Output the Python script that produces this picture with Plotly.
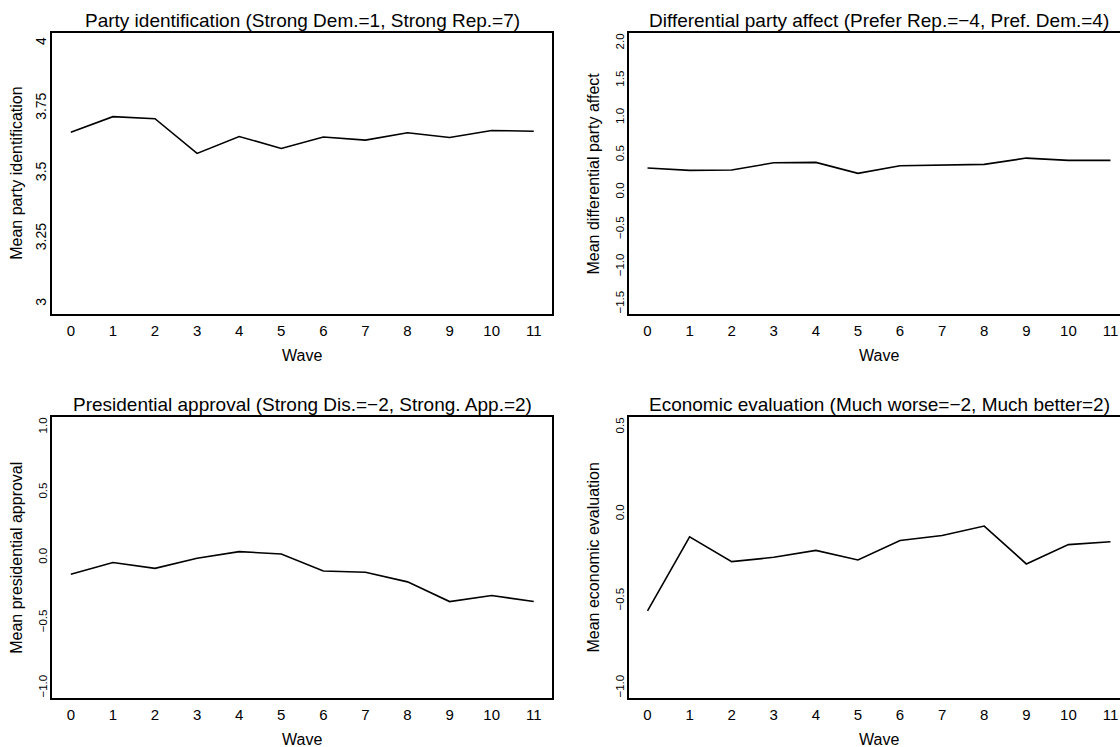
import plotly.graph_objects as go

# Survey waves and panel means
waves = list(range(12))
party_id = [3.658, 3.718, 3.710, 3.577, 3.642, 3.596, 3.640, 3.628, 3.656, 3.638, 3.665, 3.662]
party_affect = [0.323, 0.292, 0.297, 0.394, 0.399, 0.252, 0.354, 0.363, 0.372, 0.457, 0.426, 0.426]
approval = [-0.129, -0.039, -0.083, -0.006, 0.045, 0.027, -0.103, -0.113, -0.187, -0.338, -0.292, -0.338]
econ_eval = [-0.557, -0.131, -0.274, -0.249, -0.209, -0.264, -0.152, -0.123, -0.069, -0.287, -0.176, -0.159]

titles = [
    "Party identification (Strong Dem.=1, Strong Rep.=7)",
    "Differential party affect (Prefer Rep.=\u22124, Pref. Dem.=4)",
    "Presidential approval (Strong Dis.=\u22122, Strong. App.=2)",
    "Economic evaluation (Much worse=\u22122, Much better=2)",
]
ylabels = [
    "Mean party identification",
    "Mean differential party affect",
    "Mean presidential approval",
    "Mean economic evaluation",
]
yticks = [
    [3, 3.25, 3.5, 3.75, 4],
    [-1.5, -1.0, -0.5, 0.0, 0.5, 1.0, 1.5, 2.0],
    [-1.0, -0.5, 0.0, 0.5, 1.0],
    [-1.0, -0.5, 0.0, 0.5],
]
ytick_text = [
    ["3", "3.25", "3.5", "3.75", "4"],
    ["\u22121.5", "\u22121.0", "\u22120.5", "0.0", "0.5", "1.0", "1.5", "2.0"],
    ["\u22121.0", "\u22120.5", "0.0", "0.5", "1.0"],
    ["\u22121.0", "\u22120.5", "0.0", "0.5"],
]
ylims = [(3, 4), (-1.5, 2.0), (-1.0, 1.0), (-1.0, 0.5)]
series = [party_id, party_affect, approval, econ_eval]

W, H = 1120, 747
FONT = "Liberation Sans, Arial, Helvetica, sans-serif"

# panel boxes in pixels: (left, right, top, bottom)
boxes = [
    (52.3, 552.3, 32.7, 314.3),
    (629.0, 1129.0, 32.7, 314.3),
    (52.3, 552.3, 416.7, 698.3),
    (629.0, 1129.0, 416.7, 698.3),
]

fig = go.Figure()
layout = dict(
    width=W, height=H,
    margin=dict(l=0, r=0, t=0, b=0),
    paper_bgcolor="white", plot_bgcolor="white",
    showlegend=False,
    font=dict(family=FONT, color="black"),
)
annotations = []

xlo, xhi = -0.44, 11.44
for i, (vals, box) in enumerate(zip(series, boxes)):
    n = "" if i == 0 else str(i + 1)
    left, right, top, bottom = box
    vis_right = min(right, W)
    px_per_unit = (right - left) / (xhi - xlo)
    x_end = xlo + (vis_right - left) / px_per_unit
    lo, hi = ylims[i]
    pad = 0.04 * (hi - lo)
    cut = right > W

    fig.add_trace(go.Scatter(
        x=waves, y=vals, mode="lines",
        line=dict(color="black", width=1.6),
        xaxis="x" + n, yaxis="y" + n, hoverinfo="skip",
    ))

    layout["xaxis" + n] = dict(
        domain=[left / W, vis_right / W], range=[xlo, x_end],
        anchor="y" + n, tickvals=waves, ticktext=[str(w) for w in waves],
        ticks="", showgrid=False, zeroline=False,
        showline=True, linecolor="black", linewidth=1.5, mirror=True,
        tickfont=dict(size=15, family=FONT), ticklabelstandoff=2,
        fixedrange=True,
    )
    layout["yaxis" + n] = dict(
        domain=[1 - bottom / H, 1 - top / H], range=[lo - pad, hi + pad],
        anchor="x" + n, tickvals=yticks[i], ticktext=ytick_text[i],
        tickangle=-90, ticks="", showgrid=False, zeroline=False,
        showline=True, linecolor="black", linewidth=1.5,
        mirror=not cut,
        tickfont=dict(size=14 if i == 0 else 11.5, family=FONT),
        ticklabelstandoff=-1, fixedrange=True,
    )

    cx = (left + right) / 2
    annotations.append(dict(
        text=titles[i], x=cx / W, y=1 - (top - 12.5) / H,
        xref="paper", yref="paper", xanchor="center", yanchor="middle",
        showarrow=False, font=dict(size=19, family=FONT),
    ))
    annotations.append(dict(
        text="Wave", x=cx / W, y=1 - (bottom + 41) / H,
        xref="paper", yref="paper", xanchor="center", yanchor="middle",
        showarrow=False, font=dict(size=16, family=FONT),
    ))
    annotations.append(dict(
        text=ylabels[i], x=(left - 36) / W, y=1 - (top + bottom) / 2 / H,
        xref="paper", yref="paper", xanchor="center", yanchor="middle",
        textangle=-90, showarrow=False, font=dict(size=16, family=FONT),
    ))

layout["annotations"] = annotations
fig.update_layout(**layout)
fig.write_html("out.html")
